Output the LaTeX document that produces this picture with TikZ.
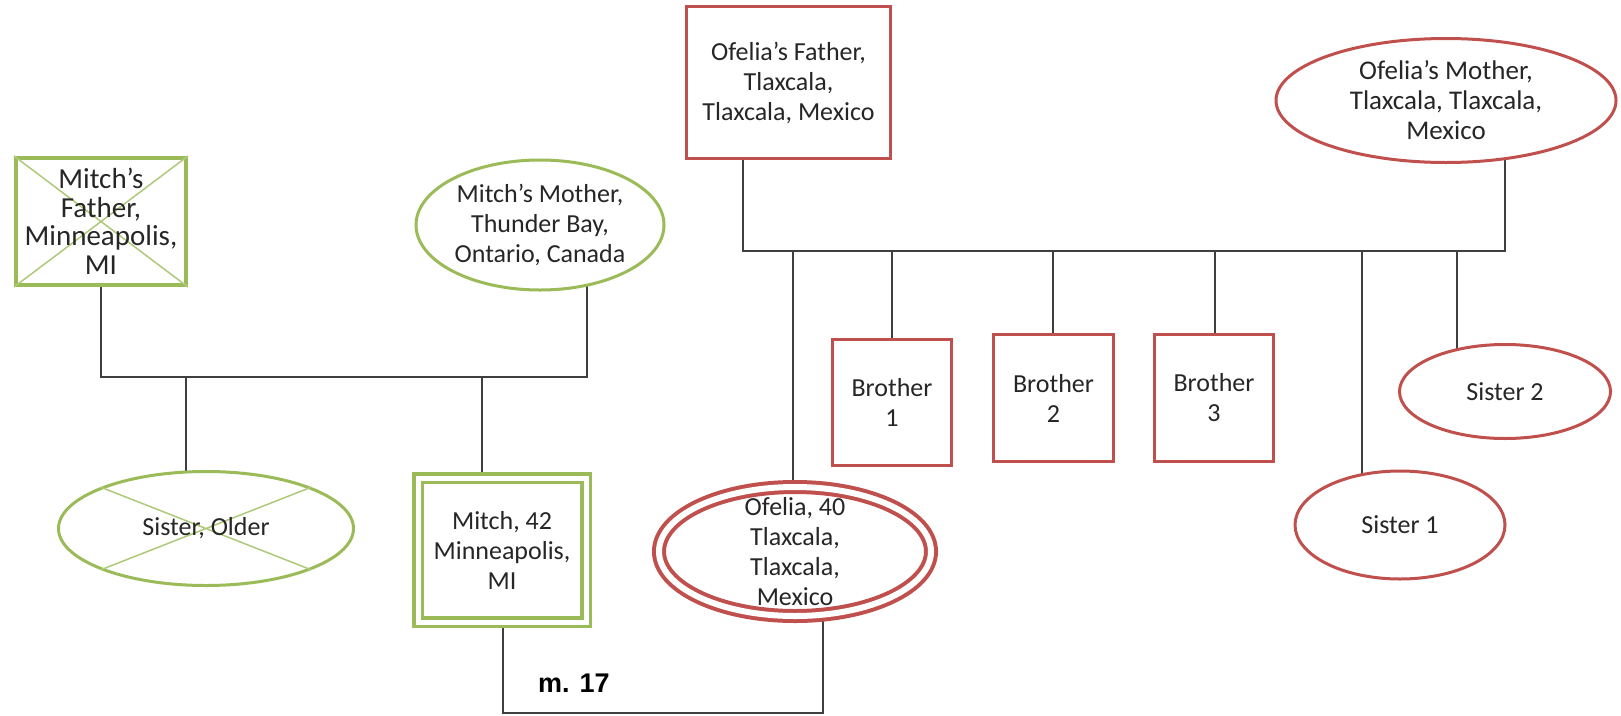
\documentclass[tikz,border=0pt]{standalone}
\usepackage{fontspec}
\setmainfont{Carlito}
\newfontfamily\labelfont{Liberation Sans}
\usetikzlibrary{shapes.geometric,backgrounds}

\definecolor{kinGreen}{HTML}{9BBB59}
\definecolor{kinRed}{HTML}{C0504D}
\definecolor{lineGray}{HTML}{3F3F3F}
\definecolor{inkGray}{HTML}{262626}

\begin{document}
\begin{tikzpicture}[x=1pt,y=-1pt,
  txt/.style={align=center, text=inkGray, font=\fontsize{26}{30}\selectfont, inner sep=0pt},
  box/.style={rectangle, inner sep=0pt},
  oval/.style={ellipse, inner sep=0pt},
  grnline/.style={draw=kinGreen, line width=3pt, fill=white},
  redline/.style={draw=kinRed, line width=3pt, fill=white},
  crossed/.style={draw=kinGreen!80, line width=1.5pt},
  link/.style={draw=lineGray, line width=2pt}
]
\useasboundingbox (0,0) rectangle (1621,715);
\begin{scope}[on background layer]
  \fill[white] (0,0) rectangle (1621,715);
\end{scope}

% ---- Mitch's side (green) ----
\node[box, grnline, line width=4pt, minimum width=170pt, minimum height=127pt] (mf) at (101,221.5) {};
\draw[crossed] (mf.north west) -- (mf.south east) (mf.north east) -- (mf.south west);
\node[txt, font=\fontsize{29}{28.5}\selectfont] (mf-t) at (mf) {Mitch’s\\Father,\\Minneapolis,\\MI};

\node[oval, grnline, minimum width=248pt, minimum height=130pt] (mm) at (540,225) {};
\node[txt] (mm-t) at (mm) {Mitch’s Mother,\\Thunder Bay,\\Ontario, Canada};

\node[oval, grnline, minimum width=295pt, minimum height=114pt] (so) at (206,528.5) {};
\draw[crossed] (so.north west) -- (so.south east) (so.north east) -- (so.south west);
\node[txt] (so-t) at (so) {Sister, Older};

\node[box, grnline, line width=3.5pt, double=white, double distance=5pt,
      minimum width=168pt, minimum height=144pt] (mi) at (502,550) {};
\node[txt] (mi-t) at (mi) {Mitch, 42\\Minneapolis,\\MI};

% ---- Ofelia's side (red) ----
\node[box, redline, minimum width=204pt, minimum height=152pt] (ofa) at (788.5,82.5) {};
\node[txt] (ofa-t) at (ofa) {Ofelia’s Father,\\Tlaxcala,\\Tlaxcala, Mexico};

\node[oval, redline, minimum width=340pt, minimum height=124pt] (omo) at (1446,100.5) {};
\node[txt, font=\fontsize{27}{30}\selectfont] (omo-t) at (omo) {Ofelia’s Mother,\\Tlaxcala, Tlaxcala,\\Mexico};

\node[oval, redline, line width=4pt, double=white, double distance=6pt,
      minimum width=272pt, minimum height=129pt] (of) at (795,551.5) {};
\node[txt] (of-t) at (of) {Ofelia, 40\\Tlaxcala,\\Tlaxcala,\\Mexico};

\node[box, redline, minimum width=119pt, minimum height=126pt] (bA) at (892,402.5) {};
\node[txt] (bA-t) at (bA) {Brother\\1};
\node[box, redline, minimum width=120pt, minimum height=127pt] (bB) at (1053.5,398) {};
\node[txt] (bB-t) at (bB) {Brother\\2};
\node[box, redline, minimum width=119pt, minimum height=127pt] (bC) at (1214,398) {};
\node[txt] (bC-t) at (bC) {Brother\\3};

\node[oval, redline, minimum width=210pt, minimum height=108pt] (sA) at (1400,525) {};
\node[txt] (sA-t) at (sA) {Sister 1};
\node[oval, redline, minimum width=211pt, minimum height=94pt] (sB) at (1505,391.5) {};
\node[txt] (sB-t) at (sB) {Sister 2};

% marriage label
\node[anchor=base west, inner sep=0pt, text=black,
      font=\labelfont\bfseries\fontsize{27}{30}\selectfont] (wed) at (538,692) {m. 17};

% ---- connectors, kept behind the filled shapes ----
\coordinate (mbusL) at (101,377);
\coordinate (mbusR) at (587,377);
\coordinate (jso) at (186,377);
\coordinate (jmi) at (482,377);
\coordinate (marL) at (503,713);
\coordinate (marR) at (823,713);
\coordinate (obusL) at (743,251);
\coordinate (obusR) at (1505,251);
\begin{scope}[on background layer]
  \draw[link] (mf) -- (mbusL) -- (mbusR) -- (mbusR |- mm.center);
  \draw[link] (jso) -- (jso |- so.center);
  \draw[link] (jmi) -- (jmi |- mi.center);
  \draw[link] (marL |- mi.center) -- (marL) -- (marR) -- (marR |- of.center);
  \draw[link] (obusL |- ofa.center) -- (obusL) -- (obusR) -- (obusR |- omo.center);
  \foreach \x/\n in {793/of, 892/bA, 1053/bB, 1215/bC, 1362/sA, 1457/sB} {
    \coordinate (drop) at (\x,251);
    \draw[link] (drop) -- (drop |- \n.center);
  }
\end{scope}
\end{tikzpicture}
\end{document}
